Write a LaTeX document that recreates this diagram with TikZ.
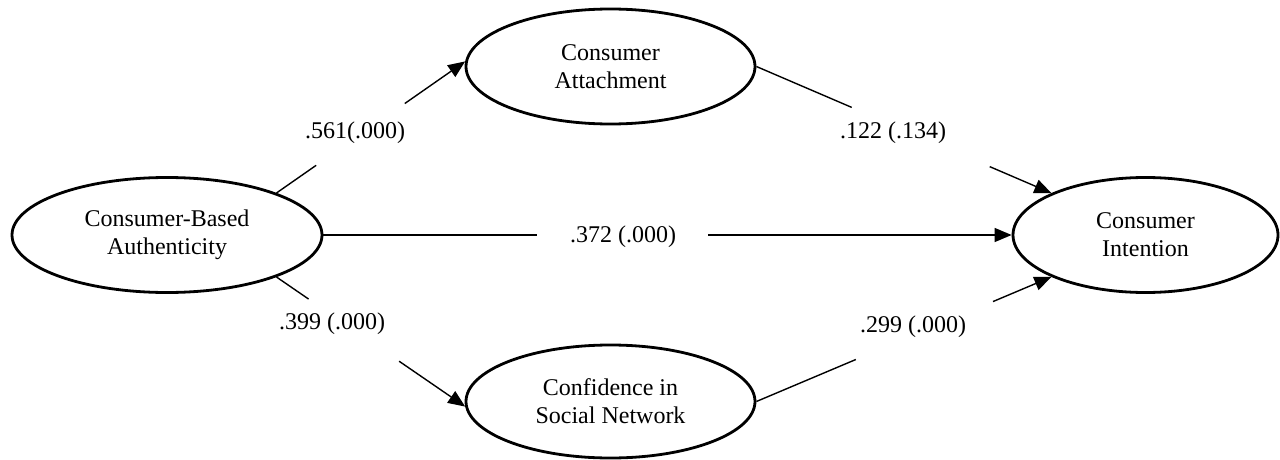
\documentclass[tikz,border=0pt]{standalone}
\usepackage{fontspec}
\setmainfont{Liberation Serif}
\usetikzlibrary{shapes.geometric,arrows.meta,calc}
\begin{document}
\begin{tikzpicture}[x=1pt,y=-1pt,
  latent/.style={draw, ellipse, line width=2.8pt, inner sep=0pt, align=center,
    font=\fontsize{24}{28}\selectfont},
  conn/.style={line width=1.4pt},
  arr/.style={conn, -{Triangle[length=17pt,width=14pt]}},
  coef/.style={font=\fontsize{24}{28}\selectfont, inner sep=0pt}]
\useasboundingbox (0,0) rectangle (1280,460);

\node[latent, minimum width=310pt, minimum height=115pt] (cba) at (167,235) {Consumer-Based\\Authenticity};
\node[latent, minimum width=289pt, minimum height=115pt] (att) at (610.5,66.5) {Consumer\\Attachment};
\node[latent, minimum width=289pt, minimum height=113pt] (csn) at (610.5,401.5) {Confidence in\\Social Network};
\node[latent, minimum width=265pt, minimum height=115pt] (ci) at (1145.5,235) {Consumer\\Intention};

% CBA -> Attachment
\coordinate (a1) at ($(cba.21)!0.21!(att.178)$);
\coordinate (a2) at ($(cba.21)!0.68!(att.178)$);
\draw[conn] (cba.21) -- (a1);
\draw[arr] (a2) -- (att.178);
\node[coef] (l1) at (355,133) {.561(.000)};

% CBA -> Confidence
\coordinate (b1) at ($(cba.-21)!0.17!(csn.182)$);
\coordinate (b2) at ($(cba.-21)!0.65!(csn.182)$);
\draw[conn] (cba.-21) -- (b1);
\draw[arr] (b2) -- (csn.182);
\node[coef] (l2) at (332,324) {.399 (.000)};

% CBA -> Intention
\coordinate (c1) at ($(cba.east)!0.311!(ci.west)$);
\coordinate (c2) at ($(cba.east)!0.559!(ci.west)$);
\draw[conn] (cba.east) -- (c1);
\draw[arr] (c2) -- (ci.west);
\node[coef] (l3) at (623,237) {.372 (.000)};

% Attachment -> Intention
\coordinate (d1) at ($(att.0)!0.323!(ci.156)$);
\coordinate (d2) at ($(att.0)!0.791!(ci.156)$);
\draw[conn] (att.0) -- (d1);
\draw[arr] (d2) -- (ci.156);
\node[coef] (l4) at (893,133) {.122 (.134)};

% Confidence -> Intention
\coordinate (e1) at ($(csn.0)!0.337!(ci.204)$);
\coordinate (e2) at ($(csn.0)!0.802!(ci.204)$);
\draw[conn] (csn.0) -- (e1);
\draw[arr] (e2) -- (ci.204);
\node[coef] (l5) at (913,327) {.299 (.000)};
\end{tikzpicture}
\end{document}
